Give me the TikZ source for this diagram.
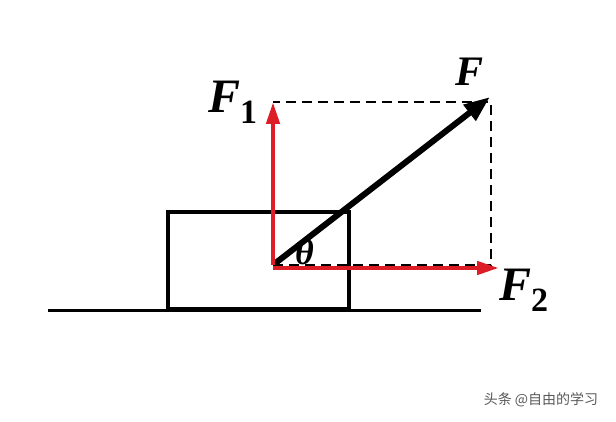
\documentclass[tikz,border=0pt]{standalone}
\usepackage{fontspec}
\setmainfont{Liberation Serif}
\newfontfamily\cjk{Noto Sans CJK SC}
\usepackage{xcolor}
\usetikzlibrary{arrows.meta}
\definecolor{forcered}{RGB}{222,30,38}

\tikzset{
  force/.style={line width=4.5pt,-{Triangle[length=22pt,width=13pt]}},
  label/.style={font=\bfseries\itshape\fontsize{48}{52}\selectfont,inner sep=0pt,anchor=base west},
}
\newcommand{\lowsub}[1]{\raisebox{-11pt}{\upshape\fontsize{34}{36}\selectfont #1}}

\begin{document}
\begin{tikzpicture}[x=1pt,y=-1pt]
\fill[white] (0,0) rectangle (616,422);
% points
\coordinate (O) at (273,265);
\coordinate (A) at (273,102);
\coordinate (B) at (491,102);
\coordinate (C) at (491,265);
% ground and block
\draw[line width=3pt] (48,310) -- (481,310);
\draw[line width=3.2pt] (168,309) rectangle (349,212);
\draw[line width=5pt] (168,309) -- (349,309);
% parallelogram
\draw[line width=2.2pt,dash pattern=on 10pt off 6pt] (O) -- (C) -- (B) -- (A);
% forces
\draw[force,line width=6pt,-{Triangle[length=26pt,width=19pt]}] (O) -- (490,97);
\draw[force,forcered] (O) -- (273,102);
\draw[force,forcered] (O|-0,268) -- (499,268);
% labels
\node[label,font=\bfseries\itshape\fontsize{42}{44}\selectfont] (F) at (455,86) {F};
\node[label] (F1) at (208,113) {F\lowsub{1}};
\node[label] (F2) at (499,300) {F\lowsub{2}};
\node[label,font=\bfseries\itshape\fontsize{36}{38}\selectfont] (theta) at (295,265) {θ};
\node[text=black!65,font=\cjk\fontsize{14}{16}\selectfont,inner sep=0pt] (mark) at (541,400) {头条 @自由的学习};
\end{tikzpicture}
\end{document}
